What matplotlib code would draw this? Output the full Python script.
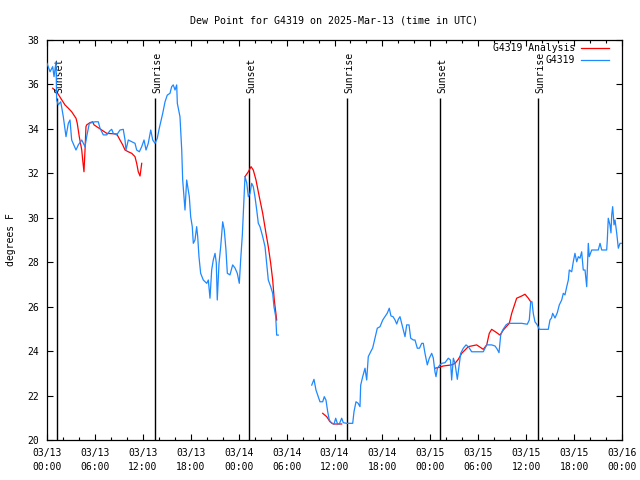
import matplotlib
matplotlib.use('Agg')
import matplotlib.pyplot as plt
import matplotlib.dates as mdates
import numpy as np
import pandas as pd

start = pd.Timestamp('2025-03-13 00:00')

# G4319 observed dew point (hours after 03/13 00:00 UTC, degrees F), NaN = data gap
obs_hours = [0.0, 0.38, 0.71, 0.88, 1.13, 1.21, 1.41, 1.72, 2.04, 2.38, 2.67, 2.88, 3.09, 3.63, 3.92,
             4.35, 4.76, 4.97, 5.30, 6.01, 6.42, 6.64, 7.05, 7.48, 7.89, 8.10, 8.30, 8.73, 9.14, 9.55,
             9.77, 9.89, 10.18, 11.02, 11.23, 11.56, 11.86, 12.15, 12.40, 12.68, 12.99, 13.24, 13.52,
             13.81, 14.06, 14.24, 14.49, 14.78, 15.06, 15.40, 15.61, 15.81, 16.03, 16.24, 16.32, 16.65,
             16.87, 16.99, 17.15, 17.28, 17.49, 17.82, 17.99, 18.19, 18.32, 18.53, 18.74, 18.87, 19.03,
             19.24, 19.57, 20.00, 20.20, 20.41, 20.62, 20.82, 21.04, 21.20, 21.32, 21.54, 21.75, 22.00,
             22.20, 22.41, 22.58, 22.91, 23.25, 23.54, 23.83, 24.08, 24.25, 24.46, 24.67, 24.79, 25.01,
             25.21, 25.42, 25.63, 25.83, 26.04, 26.26, 26.46, 26.67, 27.01, 27.30, 27.51, 27.71, 28.01,
             28.26, 28.42, 28.64, 28.76, 28.96,
             31.0,
             33.15, 33.43, 33.68, 33.97, 34.18, 34.52, 34.72, 34.93, 35.15, 35.35, 35.65, 35.94, 36.15,
             36.38, 36.60, 36.90, 37.10, 37.53, 38.28, 38.44, 38.69, 38.94, 39.19, 39.28, 39.53, 39.82,
             40.03, 40.23, 40.53, 40.78, 41.07, 41.36, 41.70, 42.04, 42.32, 42.61, 42.86, 43.07, 43.33,
             43.58, 43.79, 43.99, 44.20, 44.41, 44.62, 44.83, 45.04, 45.33, 45.54, 45.87, 46.08, 46.37,
             46.64, 46.92, 47.12, 47.33, 47.62, 47.87, 48.17, 48.37, 48.58, 48.71, 48.89, 49.21, 49.42,
             49.84, 50.25, 50.52, 50.67, 50.88, 51.09, 51.38, 51.63, 51.80, 52.13, 52.47, 52.78, 53.18,
             54.01, 54.63, 55.06, 55.68, 56.10, 56.35, 56.60, 56.81, 57.06, 57.48, 57.76, 58.81, 59.44,
             60.14, 60.39, 60.57, 60.73, 60.89, 61.10, 61.39, 61.64, 62.77, 62.98, 63.17, 63.32, 63.61,
             63.90, 64.15, 64.45, 64.65, 64.86, 65.08, 65.28, 65.40, 65.70, 65.90, 66.11, 66.33, 66.53,
             66.74, 66.95, 67.15, 67.37, 67.58, 67.78, 67.90, 68.21, 69.03, 69.25, 69.46, 70.08, 70.16,
             70.28, 70.49, 70.62, 70.71, 70.83, 71.00, 71.13, 71.34, 71.54, 71.75, 71.96]
obs_dewpt = [36.95, 36.57, 36.80, 36.35, 37.02, 35.30, 35.08, 35.22, 34.55, 33.65, 34.25, 34.40, 33.50,
             33.05, 33.28, 33.50, 33.20, 33.65, 34.25, 34.32, 34.32, 34.03, 33.73, 33.73, 33.92, 33.98,
             33.80, 33.73, 33.95, 33.98, 33.50, 33.05, 33.50, 33.35, 33.05, 32.97, 33.20, 33.50, 33.05,
             33.35, 33.95, 33.50, 33.35, 33.58, 34.03, 34.32, 34.70, 35.22, 35.52, 35.60, 35.90, 35.98,
             35.75, 35.98, 35.15, 34.55, 33.05, 31.70, 30.95, 30.35, 31.70, 30.95, 30.05, 29.60, 28.85,
             29.00, 29.60, 29.15, 28.25, 27.50, 27.20, 27.05, 27.20, 26.38, 27.65, 28.10, 28.40, 27.97,
             26.30, 27.95, 28.70, 29.82, 29.45, 28.55, 27.50, 27.43, 27.88, 27.74, 27.50, 27.05, 28.10,
             29.23, 30.95, 31.85, 31.57, 30.95, 31.10, 31.55, 31.40, 30.95, 30.35, 29.75, 29.60, 29.15,
             28.70, 27.95, 27.20, 26.90, 26.60, 26.00, 25.55, 24.72, 24.72,
             np.nan,
             22.47, 22.73, 22.25, 21.95, 21.72, 21.72, 21.95, 21.80, 21.27, 20.90, 20.75, 20.72, 20.98,
             20.72, 20.72, 20.98, 20.78, 20.75, 20.75, 21.27, 21.72, 21.66, 21.50, 22.47, 22.85, 23.23,
             22.70, 23.75, 23.97, 24.14, 24.58, 25.03, 25.10, 25.40, 25.55, 25.71, 25.93, 25.58, 25.55,
             25.40, 25.22, 25.43, 25.55, 25.25, 24.95, 24.65, 25.18, 25.18, 24.58, 24.50, 24.50, 24.13,
             24.13, 24.35, 24.35, 23.90, 23.38, 23.68, 23.90, 23.69, 23.07, 22.85, 23.24, 23.38, 23.45,
             23.48, 23.68, 23.60, 22.70, 23.68, 23.45, 22.73, 23.45, 23.90, 24.13, 24.28, 24.19, 23.97,
             23.97, 23.97, 24.28, 24.28, 24.23, 24.10, 23.93, 24.72, 24.95, 25.18, 25.25, 25.25, 25.25,
             25.21, 25.40, 26.22, 26.22, 25.70, 25.32, 25.18, 24.98, 24.98, 25.40, 25.49, 25.70, 25.49,
             25.73, 26.08, 26.30, 26.60, 26.53, 26.90, 27.20, 27.65, 27.57, 28.02, 28.40, 28.02, 28.25,
             28.18, 28.47, 27.65, 27.65, 26.90, 28.85, 28.25, 28.55, 28.55, 28.85, 28.55, 28.55, 29.00,
             29.98, 29.68, 29.32, 30.12, 30.50, 29.68, 29.90, 29.30, 28.63, 28.85, 28.85]

# G4319 analysis dew point
ana_hours = [0.71, 1.21, 1.72, 2.25, 2.67, 3.09, 3.63, 3.79, 4.04, 4.35, 4.47, 4.63, 4.76, 4.88, 4.97,
             5.38, 5.72, 5.89, 7.48, 8.73, 9.14, 9.48, 9.77, 10.18, 10.61, 11.02, 11.23, 11.43, 11.65,
             11.86,
             18.0,
             24.79, 25.21, 25.55, 25.83, 26.17, 26.58, 27.01, 27.42, 27.71, 28.01, 28.26, 28.46, 28.76,
             31.0,
             34.52, 35.02, 35.44, 35.85, 36.90,
             42.0,
             48.58, 49.12, 49.62, 50.67, 51.09, 51.50, 51.93, 52.34, 52.75, 53.80, 54.63, 55.06, 55.38,
             55.68, 56.31, 56.72, 57.14, 57.89, 58.19, 58.60, 58.81, 59.44, 59.85, 60.27, 60.57]
ana_dewpt = [35.83, 35.67, 35.38, 35.08, 34.93, 34.77, 34.48, 34.25, 33.65, 33.05, 32.60, 32.07, 33.05,
             34.10, 34.18, 34.28, 34.32, 34.18, 33.80, 33.77, 33.50, 33.28, 33.05, 32.97, 32.90, 32.75,
             32.45, 32.07, 31.88, 32.45,
             np.nan,
             31.85, 32.07, 32.30, 32.15, 31.70, 30.95, 30.20, 29.30, 28.70, 27.95, 27.20, 26.30, 25.40,
             np.nan,
             21.20, 21.05, 20.82, 20.72, 20.72,
             np.nan,
             23.23, 23.27, 23.33, 23.38, 23.45, 23.63, 23.90, 24.05, 24.20, 24.28, 24.08, 24.28, 24.80,
             24.98, 24.83, 24.72, 24.95, 25.25, 25.70, 26.15, 26.38, 26.48, 26.56, 26.38, 26.22]

sun_times = ['2025-03-13 01:16', '2025-03-13 13:32', '2025-03-14 01:17',
             '2025-03-14 13:34', '2025-03-15 01:14', '2025-03-15 13:29']
sun_labels = ['Sunset', 'Sunrise', 'Sunset', 'Sunrise', 'Sunset', 'Sunrise']

obs_t = start + pd.to_timedelta(obs_hours, unit='h')
ana_t = start + pd.to_timedelta(ana_hours, unit='h')
sun_t = pd.to_datetime(sun_times)

plt.rcParams['font.family'] = 'DejaVu Sans Mono'
plt.rcParams['font.size'] = 7

fig = plt.figure(figsize=(6.4, 4.8), dpi=100)
ax = fig.add_axes([47/640, 40/480, 575/640, 400/480])

# sunrise / sunset markers
ax.vlines(sun_t, 20, 35.4, color='black', lw=1.0, zorder=1)
for t, lab in zip(sun_t, sun_labels):
    ax.annotate(lab, xy=(t, 35.62), xytext=(1.5, 0), textcoords='offset points',
                rotation=90, ha='center', va='bottom', fontsize=7)

ax.plot(ana_t, ana_dewpt, color='#ff0000', lw=0.9, label='G4319 Analysis', zorder=2)
ax.plot(obs_t, obs_dewpt, color='#1e88ff', lw=0.9, label='G4319', zorder=3)

ax.set_xlim(start, start + pd.Timedelta(hours=72))
ax.set_ylim(20, 38)
ax.set_yticks(np.arange(20, 39, 2))

ax.xaxis.set_major_locator(mdates.HourLocator(byhour=[0, 6, 12, 18]))
ax.xaxis.set_minor_locator(mdates.HourLocator(interval=2))
ax.xaxis.set_major_formatter(mdates.DateFormatter('%m/%d\n%H:%M'))
for lbl in ax.get_xticklabels():
    lbl.set_linespacing(1.5)

ax.tick_params(which='both', direction='in', top=True, right=True, colors='black')
ax.tick_params(which='major', length=4.5, width=0.8, pad=6)
ax.tick_params(which='minor', length=2.5, width=0.8)
ax.tick_params(axis='y', pad=6)
for s in ax.spines.values():
    s.set_linewidth(0.9)

ax.set_ylabel('degrees F', labelpad=8)
ax.set_title('Dew Point for G4319 on 2025-Mar-13 (time in UTC)', fontsize=7.2, pad=12)

ax.legend(loc='upper right', bbox_to_anchor=(1 - 13/575, 1 - 3/400), frameon=False,
          markerfirst=False, handlelength=2.9, handletextpad=0.6, borderpad=0,
          borderaxespad=0, labelspacing=0.25, fontsize=7)

fig.savefig('out.png', dpi=100)
